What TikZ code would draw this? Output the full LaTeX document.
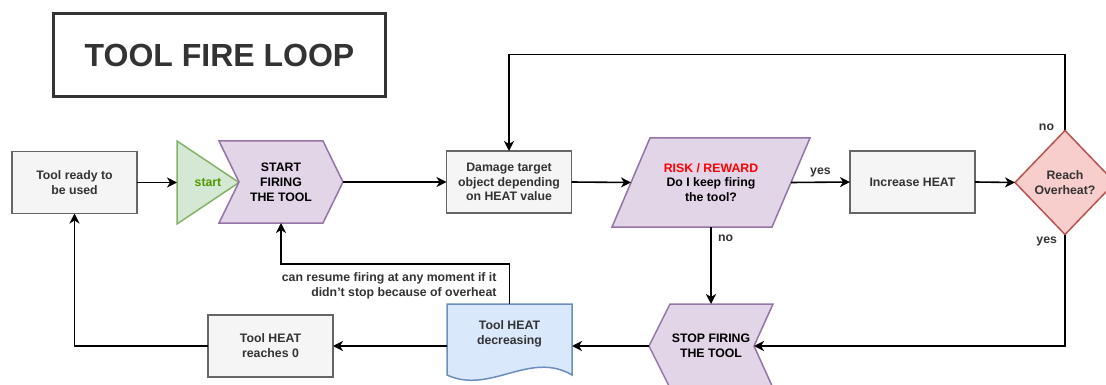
\documentclass[tikz,border=0pt]{standalone}
\usepackage{fontspec}
\setmainfont{Liberation Sans}
\usetikzlibrary{arrows.meta,shapes.geometric,positioning,backgrounds}

\definecolor{txt}{HTML}{333333}
\definecolor{boxfill}{HTML}{F5F5F5}
\definecolor{boxline}{HTML}{666666}
\definecolor{purfill}{HTML}{E1D5E7}
\definecolor{purline}{HTML}{9673A6}
\definecolor{grnfill}{HTML}{D5E8D4}
\definecolor{grnline}{HTML}{82B366}
\definecolor{grntxt}{HTML}{4D9900}
\definecolor{redfill}{HTML}{F8CECC}
\definecolor{redline}{HTML}{B85450}
\definecolor{bluefill}{HTML}{DAE8FC}
\definecolor{blueline}{HTML}{6C8EBF}

\tikzset{
  every node/.style={font=\fontsize{12.3}{14.8}\selectfont\bfseries, text=txt,
    align=center, inner sep=0pt, outer sep=0pt},
  titlebox/.style={draw=txt, line width=3pt, minimum width=332, minimum height=83,
    font=\fontsize{32}{38}\selectfont\bfseries},
  plainbox/.style={draw=boxline, fill=boxfill, line width=1.5pt,
    minimum width=125, minimum height=62},
  holder/.style={minimum width=#1},
  grnshape/.style={draw=grnline, fill=grnfill, line width=1.5pt},
  purshape/.style={draw=purline, fill=purfill, line width=1.5pt},
  blueshape/.style={draw=blueline, fill=bluefill, line width=1.5pt},
  decision/.style={diamond, draw=redline, fill=redfill, line width=1.5pt,
    minimum width=100, minimum height=104},
  flow/.style={line width=1.6pt, -{Stealth[length=10pt,width=10pt,inset=3pt]}},
}

\begin{document}
\begin{tikzpicture}[x=1pt,y=-1pt]
   \useasboundingbox (0,0) rectangle (1106,385);

   \node[titlebox] (title) at (219.5,55) {TOOL FIRE LOOP};

   \node[plainbox] (ready)  at (74.5,182.5) {Tool ready to\\be used};
   \node[holder=62, minimum height=83, text=grntxt] (start) at (208,182.5) {start};
   \node[holder=124, minimum height=82, text=black] (fire) at (281,182) {START\\FIRING\\THE TOOL};
   \node[plainbox] (damage) at (509,182) {Damage target\\object depending\\on HEAT value};
   \node[holder=198, minimum height=89, text=black] (risk) at (711,182.5)
        {\textcolor{red}{RISK / REWARD}\\Do I keep firing\\the tool?};
   \node[plainbox] (heat)   at (912.5,182) {Increase HEAT};
   \node[decision] (over)   at (1065,182.5) {Reach\\Overheat?};

   \node[holder=124, minimum height=84, text=black] (stop) at (711,346) {STOP FIRING\\THE TOOL};
   \node[holder=125, minimum height=60] (doc) at (509.5,334) {Tool HEAT\\decreasing};
   \node[plainbox] (zero)   at (270.5,346) {Tool HEAT\\reaches 0};

   \begin{scope}[on background layer]
     \draw[grnshape] (start.north west) -- (start.east) -- (start.south west) -- cycle;
     \draw[purshape] (fire.north west) -- ([xshift=-20pt]fire.north east) -- (fire.east)
        -- ([xshift=-20pt]fire.south east) -- (fire.south west) -- ([xshift=20pt]fire.west) -- cycle;
     \draw[purshape] ([xshift=38pt]risk.north west) -- (risk.north east)
        -- ([xshift=-38pt]risk.south east) -- (risk.south west) -- cycle;
     \draw[purshape] (stop.west) -- ([xshift=21pt]stop.north west) -- (stop.north east)
        -- ([xshift=-19pt]stop.east) -- (stop.south east) -- ([xshift=21pt]stop.south west) -- cycle;
     \draw[blueshape] (doc.north west) -- (doc.north east) -- ([yshift=-11pt]doc.south east)
        .. controls +(-42,-25) and +(43,20) .. ([yshift=-11pt]doc.south west) -- cycle;
   \end{scope}

   \draw[flow] (ready.east) -- (start.west);
   \draw[flow] (fire.east) -- (damage.west);
   \draw[flow] (damage.east) -- ([xshift=19pt]risk.west);
   \draw[flow] ([xshift=-19pt]risk.east) -- node[above=5pt] {yes} (heat.west);
   \draw[flow] (heat.east) -- (over.west);
   \draw[flow] (over.north) -- node[pos=0.04, left=11pt] {no} ++(0,-76) -| (damage.north);
   \draw[flow] (over.south) |- node[pos=0.03, left=8pt] {yes} ([xshift=-19pt]stop.east);
   \draw[flow] (risk.south) -- node[pos=0.14, right=7pt] {no} (stop.north);
   \draw[flow] (stop.west) -- (stop.west -| doc.east);
   \draw[flow] (stop.west -| doc.west) -- (zero.east);
   \draw[flow] (zero.west) -| (ready.south);
   \draw[flow] (doc.north) -- ++(0,-40)
        node[below left=9pt and 13pt, align=right] {can resume firing at any moment if it\\didn't stop because of overheat}
        -| (fire.south);
\end{tikzpicture}
\end{document}
